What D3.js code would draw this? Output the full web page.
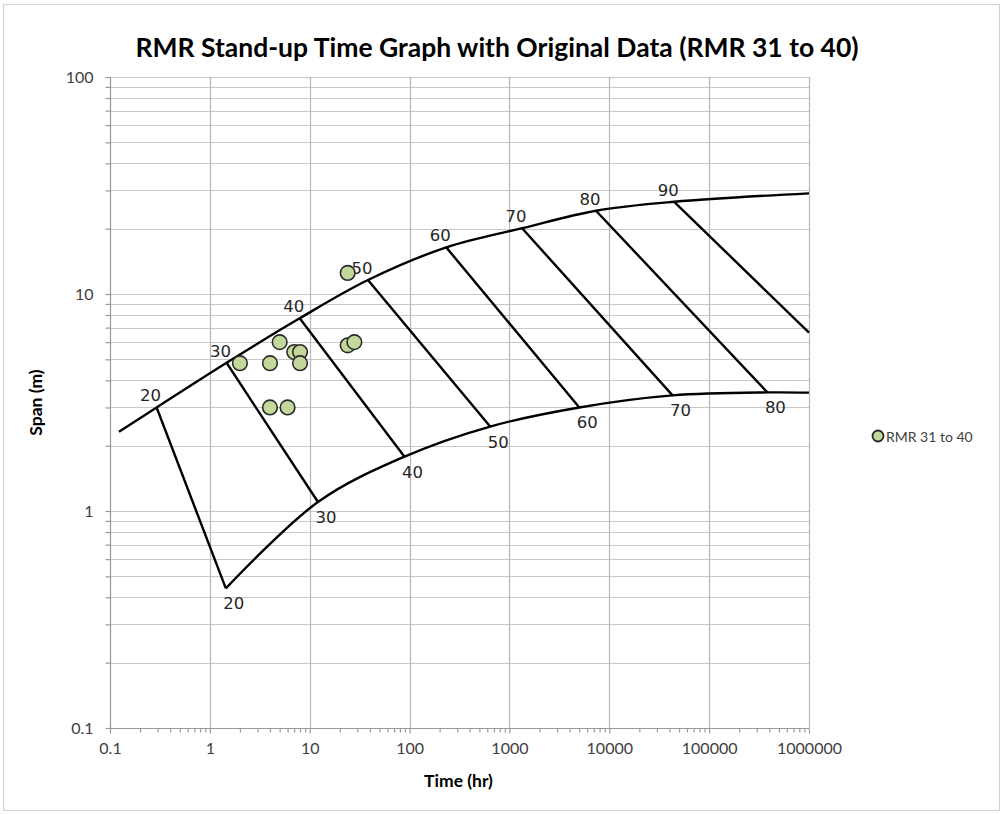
<!DOCTYPE html>
<html>
<head>
<meta charset="utf-8">
<script src="https://cdn.jsdelivr.net/npm/d3@7"></script>
<style>
  html, body { margin: 0; padding: 0; background: #fff; }
  svg { display: block; }
</style>
</head>
<body>
<svg id="chart" width="1003" height="814"></svg>
<script>
// Bieniawski RMR stand-up time envelope (log time vs log span)
const upperStart = { time: 0.123, span: 2.32 };
const upperEnd = { time: 1e6, span: 29.1 };
const upperRMR = [20, 30, 40, 50, 60, 70, 80, 90];
const upperTime = [0.293, 1.47, 7.94, 38.3, 233, 1340, 7360, 44700];
const upperSpan = [3.0, 4.82, 7.73, 11.6, 16.4, 20.1, 24.2, 26.6];

const lowerRMR = [20, 30, 40, 50, 60, 70, 80];
const lowerTime = [1.445, 12.1, 89, 641, 5010, 43000, 383000];
const lowerSpan = [0.44, 1.10, 1.78, 2.45, 3.0, 3.41, 3.52];
const lowerEnd = { time: 1e6, span: 3.51 };

// RMR 90 line leaves the plot at the right edge
const rmr90Exit = { time: 1e6, span: 6.63 };

// Case records, RMR 31 to 40
const caseTime = [2, 4, 5, 4, 6, 7, 8, 8, 24, 28, 24];
const caseSpan = [4.8, 4.8, 6.0, 3.0, 3.0, 5.4, 5.4, 4.8, 5.8, 6.0, 12.5];

const xTickValues = [0.1, 1, 10, 100, 1000, 10000, 100000, 1000000];
const xTickLabels = ["0.1", "1", "10", "100", "1000", "10000", "100000", "1000000"];
const yTickValues = [0.1, 1, 10, 100];
const yTickLabels = ["0.1", "1", "10", "100"];

const title = "RMR Stand-up Time Graph with Original Data (RMR 31 to 40)";
const xTitle = "Time (hr)";
const yTitle = "Span (m)";
const seriesName = "RMR 31 to 40";

const svg = d3.select("#chart");
const W = 1003, H = 814;
const plot = { left: 110, right: 809, top: 77, bottom: 728 };
const uiFont = "Lato, 'Open Sans', sans-serif";
const labelFont = "'DejaVu Sans', Verdana, sans-serif";

svg.append("rect").attr("x", 0).attr("y", 0).attr("width", W).attr("height", H).attr("fill", "#fff");
svg.append("rect").attr("x", 3.5).attr("y", 4.5).attr("width", W - 7).attr("height", H - 8)
  .attr("fill", "none").attr("stroke", "#d0d0d0").attr("stroke-width", 1);

const x = d3.scaleLog().domain([0.1, 1e6]).range([plot.left, plot.right]);
const y = d3.scaleLog().domain([0.1, 100]).range([plot.bottom, plot.top]);

// minor values per decade
const yMinor = y.ticks().filter(v => !yTickValues.some(m => Math.abs(m - v) / m < 1e-9));
const xMinor = x.ticks().filter(v => !xTickValues.some(m => Math.abs(m - v) / m < 1e-9));

// gridlines
const grid = svg.append("g");
grid.selectAll("line.hg").data(y.ticks()).join("line")
  .attr("x1", plot.left).attr("x2", plot.right)
  .attr("y1", d => Math.round(y(d)) + 0.5).attr("y2", d => Math.round(y(d)) + 0.5)
  .attr("stroke", "#c8c8c8").attr("stroke-width", 1.2);
grid.selectAll("line.vg").data(xTickValues.slice(1)).join("line")
  .attr("y1", plot.top).attr("y2", plot.bottom)
  .attr("x1", d => Math.round(x(d)) + 0.5).attr("x2", d => Math.round(x(d)) + 0.5)
  .attr("stroke", "#b8b8b8").attr("stroke-width", 1.2);

// axes
const axisColor = "#9a9a9a";
const xAxisG = svg.append("g").attr("transform", `translate(0,${plot.bottom + 0.5})`);
xAxisG.call(d3.axisBottom(x).tickValues(xTickValues).tickSize(5)
  .tickFormat((d, i) => xTickLabels[i]).tickPadding(9));
const xMinorG = svg.append("g").attr("transform", `translate(0,${plot.bottom + 0.5})`);
xMinorG.call(d3.axisBottom(x).tickValues(xMinor).tickSize(4).tickFormat(""));

const yAxisG = svg.append("g").attr("transform", `translate(${plot.left + 0.5},0)`);
yAxisG.call(d3.axisLeft(y).tickValues(yTickValues).tickSize(5)
  .tickFormat((d, i) => yTickLabels[i]).tickPadding(12));
const yMinorG = svg.append("g").attr("transform", `translate(${plot.left + 0.5},0)`);
yMinorG.call(d3.axisLeft(y).tickValues(yMinor).tickSize(5).tickFormat(""));

[xAxisG, xMinorG, yAxisG, yMinorG].forEach(g => {
  g.selectAll("path, line").attr("stroke", axisColor).attr("stroke-width", 1.2);
  g.selectAll("text").attr("font-family", uiFont).attr("font-size", 16).attr("fill", "#404040");
});
// flat domain lines without end caps
xAxisG.select(".domain").attr("d", `M${plot.left},0H${plot.right}`);
xMinorG.select(".domain").remove();
yAxisG.select(".domain").attr("d", `M0,${plot.bottom}V${plot.top}`);
yMinorG.select(".domain").remove();
yAxisG.selectAll("text").attr("dy", "0.35em");

// envelope curves
const line = d3.line().x(d => x(d.time)).y(d => y(d.span)).curve(d3.curveCatmullRom.alpha(0.5));
const straight = d3.line().x(d => x(d.time)).y(d => y(d.span));

const upperPts = [upperStart].concat(upperTime.map((t, i) => ({ time: t, span: upperSpan[i] })), [upperEnd]);
const lowerPts = lowerTime.map((t, i) => ({ time: t, span: lowerSpan[i] })).concat([lowerEnd]);

const env = svg.append("g").attr("fill", "none").attr("stroke", "#000").attr("stroke-width", 2.4)
  .attr("stroke-linejoin", "round");
env.append("path").attr("d", line(upperPts));
env.append("path").attr("d", line(lowerPts));

// RMR class lines joining upper and lower envelopes
upperRMR.forEach((r, i) => {
  const top = { time: upperTime[i], span: upperSpan[i] };
  const j = lowerRMR.indexOf(r);
  const bot = j >= 0 ? { time: lowerTime[j], span: lowerSpan[j] } : rmr90Exit;
  env.append("path").attr("d", straight([top, bot]));
});

// RMR labels
const lab = svg.append("g").attr("font-family", labelFont).attr("font-size", 16.5).attr("fill", "#262626")
  .attr("text-anchor", "middle");
lab.selectAll("text.up").data(upperRMR).join("text")
  .attr("x", (d, i) => x(upperTime[i]) - 6)
  .attr("y", (d, i) => y(upperSpan[i]) - 6)
  .text(d => d);
lab.selectAll("text.lo").data(lowerRMR).join("text")
  .attr("x", (d, i) => x(lowerTime[i]) + 8)
  .attr("y", (d, i) => y(lowerSpan[i]) + 21)
  .text(d => d);

// case records
const ptFill = "#c4d89b", ptStroke = "#2a2a2a";
svg.append("g").selectAll("circle").data(caseTime).join("circle")
  .attr("cx", (d) => x(d)).attr("cy", (d, i) => y(caseSpan[i])).attr("r", 7.3)
  .attr("fill", ptFill).attr("stroke", ptStroke).attr("stroke-width", 1.6);

// legend
const leg = svg.append("g").attr("transform", "translate(878,436)");
leg.append("circle").attr("r", 5.5).attr("fill", ptFill).attr("stroke", ptStroke).attr("stroke-width", 1.8);
leg.append("text").attr("x", 8).attr("y", 5.5).attr("font-family", uiFont).attr("font-size", 14)
  .attr("fill", "#404040").text(seriesName);

// titles
svg.append("text").attr("x", 497).attr("y", 57).attr("text-anchor", "middle")
  .attr("font-family", uiFont).attr("font-weight", "bold").attr("font-size", 26.5).attr("fill", "#000")
  .text(title);
svg.append("text").attr("x", (plot.left + plot.right) / 2 - 1).attr("y", 787).attr("text-anchor", "middle")
  .attr("font-family", uiFont).attr("font-weight", "bold").attr("font-size", 17.5).attr("fill", "#000")
  .text(xTitle);
svg.append("text").attr("transform", `translate(42,${(plot.top + plot.bottom) / 2}) rotate(-90)`)
  .attr("text-anchor", "middle")
  .attr("font-family", uiFont).attr("font-weight", "bold").attr("font-size", 17.5).attr("fill", "#000")
  .text(yTitle);
</script>
</body>
</html>
